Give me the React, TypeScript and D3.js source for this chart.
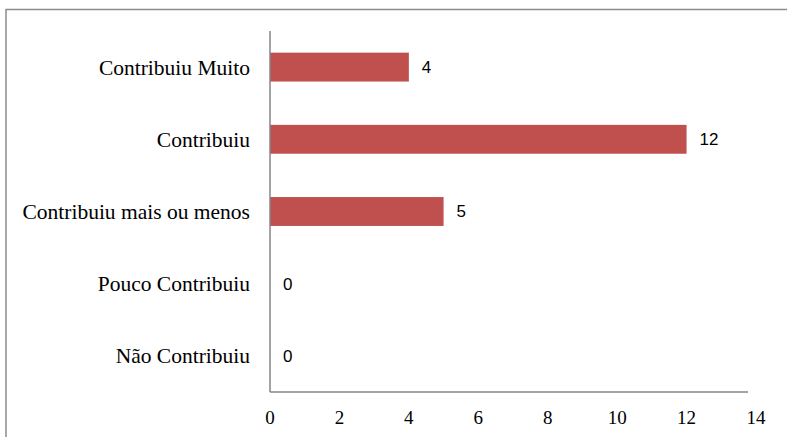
import { useEffect, useRef } from "react";
import * as d3 from "d3";

const categories = [
  "Contribuiu Muito",
  "Contribuiu",
  "Contribuiu mais ou menos",
  "Pouco Contribuiu",
  "Não Contribuiu",
];
const values = [4, 12, 5, 0, 0];
const xTicks = [0, 2, 4, 6, 8, 10, 12, 14];

const App = () => {
  const svgRef = useRef<SVGSVGElement>(null);

  useEffect(() => {
    if (!svgRef.current) return;
    const svg = d3.select(svgRef.current);
    svg.selectAll("*").remove();

    const plotLeft = 270;
    const plotTop = 31;
    const plotBottom = 392;

    const x = d3.scaleLinear().domain([0, 14]).range([plotLeft, 756]);
    const y = d3
      .scaleBand<string>()
      .domain(categories)
      .range([plotTop, plotBottom])
      .paddingInner(0.6)
      .paddingOuter(0.3);

    // outer frame (runs off the right and bottom edges)
    svg
      .append("rect")
      .attr("x", 6)
      .attr("y", 9.5)
      .attr("width", 900)
      .attr("height", 600)
      .attr("fill", "none")
      .attr("stroke", "#8c8c8c")
      .attr("stroke-width", 1.5);

    // bars
    svg
      .selectAll("rect.bar")
      .data(values)
      .enter()
      .append("rect")
      .attr("class", "bar")
      .attr("x", x(0))
      .attr("y", (_, i) => y(categories[i])!)
      .attr("width", (d) => x(d) - x(0))
      .attr("height", y.bandwidth())
      .attr("fill", "#C0504D");

    // value labels
    svg
      .selectAll("text.value")
      .data(values)
      .enter()
      .append("text")
      .attr("class", "value")
      .attr("x", (d) => x(d) + 13)
      .attr("y", (_, i) => y(categories[i])! + y.bandwidth() / 2)
      .attr("dy", "0.35em")
      .style("font-family", "'Liberation Sans', Arial, sans-serif")
      .style("font-size", "17px")
      .style("fill", "#000")
      .text((d) => d);

    // axes lines
    svg
      .append("line")
      .attr("x1", plotLeft)
      .attr("x2", plotLeft)
      .attr("y1", plotTop)
      .attr("y2", plotBottom)
      .attr("stroke", "#868686")
      .attr("stroke-width", 1.5);

    svg
      .append("line")
      .attr("x1", plotLeft)
      .attr("x2", 748)
      .attr("y1", plotBottom)
      .attr("y2", plotBottom)
      .attr("stroke", "#868686")
      .attr("stroke-width", 1.5);

    // category labels
    svg
      .selectAll("text.cat")
      .data(categories)
      .enter()
      .append("text")
      .attr("class", "cat")
      .attr("x", 250)
      .attr("y", (d) => y(d)! + y.bandwidth() / 2)
      .attr("dy", "0.35em")
      .attr("text-anchor", "end")
      .style("font-family", "'Liberation Serif', 'Times New Roman', serif")
      .style("font-size", "21.5px")
      .style("fill", "#000")
      .text((d) => d);

    // x tick labels
    svg
      .selectAll("text.tick")
      .data(xTicks)
      .enter()
      .append("text")
      .attr("class", "tick")
      .attr("x", (d) => x(d))
      .attr("y", 417)
      .attr("dy", "0.35em")
      .attr("text-anchor", "middle")
      .style("font-family", "'Liberation Serif', 'Times New Roman', serif")
      .style("font-size", "19px")
      .style("fill", "#000")
      .text((d) => d);
  }, []);

  return (
    <svg
      ref={svgRef}
      width={787}
      height={437}
      style={{ position: "absolute", left: 0, top: 0, background: "#fff" }}
    ></svg>
  );
};

export default App;
